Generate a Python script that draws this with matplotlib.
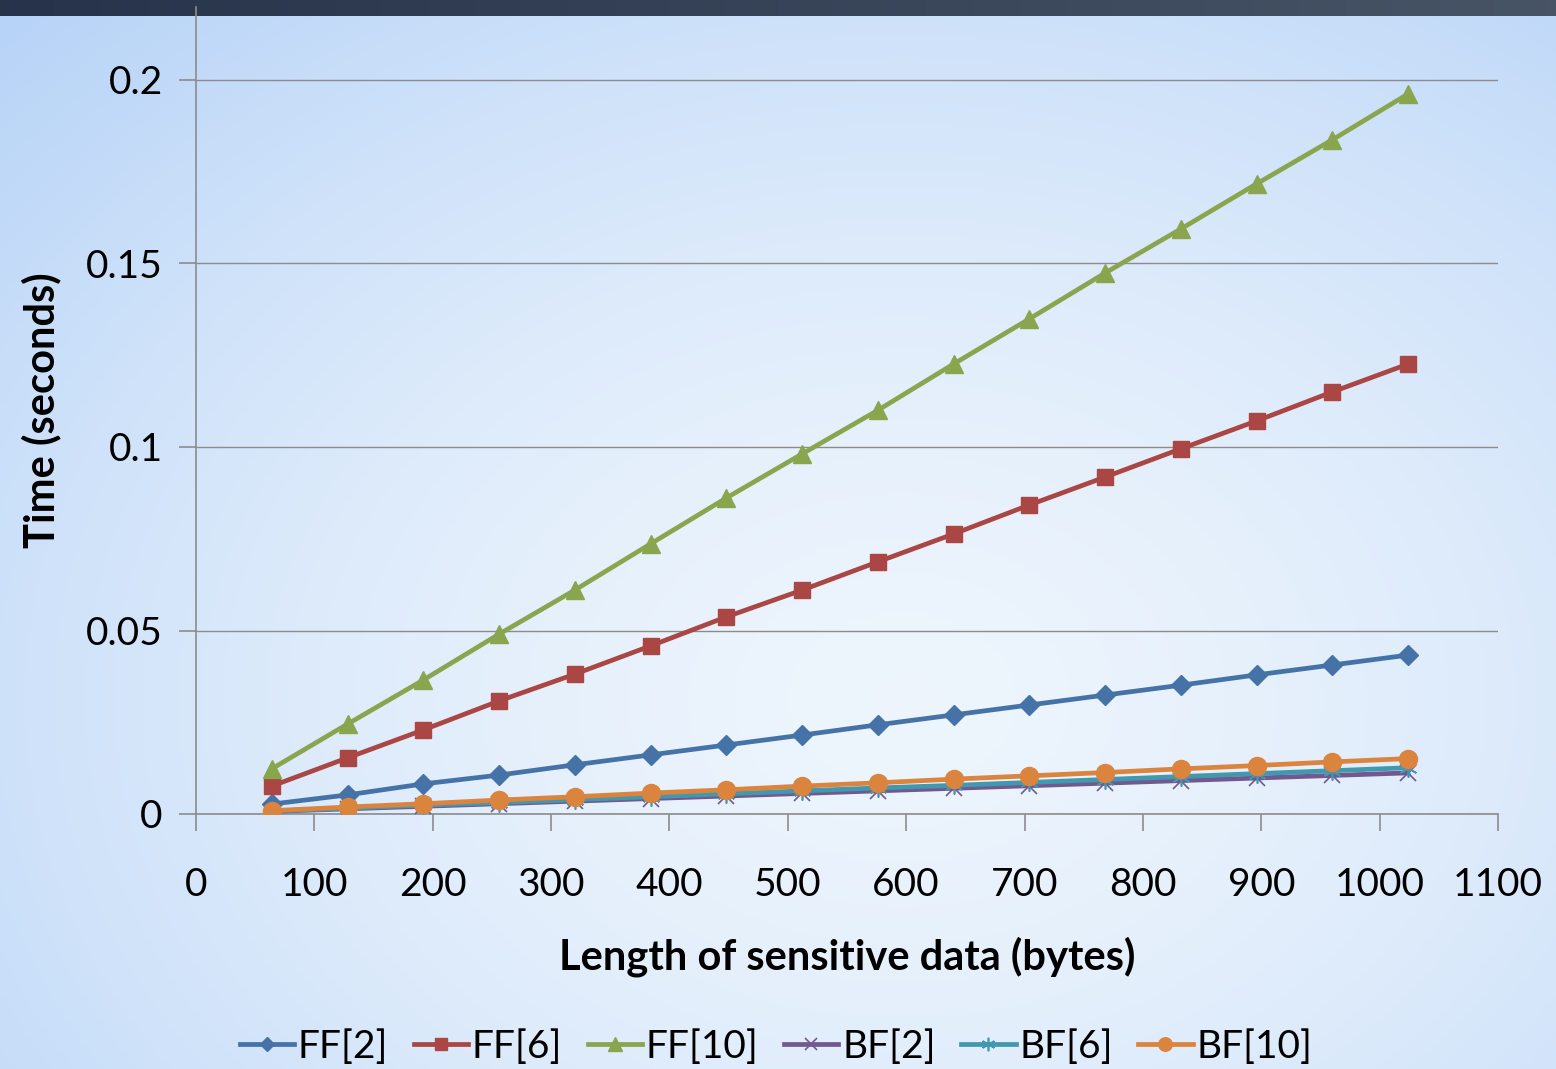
import numpy as np
import matplotlib.pyplot as plt
from matplotlib.lines import Line2D

# --- data ---
x_bytes = [64, 128, 192, 256, 320, 384, 448, 512, 576, 640, 704, 768, 832, 896, 960, 1024]

ff2 = [0.0027, 0.0052, 0.0082, 0.0106, 0.0134, 0.0161, 0.0188, 0.0215,
       0.0243, 0.0270, 0.0297, 0.0324, 0.0351, 0.0379, 0.0406, 0.0433]
ff6 = [0.0076, 0.0153, 0.0229, 0.0308, 0.0381, 0.0458, 0.0537, 0.0610,
       0.0687, 0.0763, 0.0842, 0.0918, 0.0995, 0.1071, 0.1150, 0.1226]
ff10 = [0.0123, 0.0245, 0.0365, 0.0490, 0.0610, 0.0736, 0.0861, 0.0981,
        0.1100, 0.1226, 0.1349, 0.1474, 0.1594, 0.1717, 0.1837, 0.1962]
bf2 = [0.0007, 0.0014, 0.0021, 0.0028, 0.0035, 0.0042, 0.0049, 0.0056,
       0.0063, 0.0070, 0.0077, 0.0084, 0.0091, 0.0098, 0.0105, 0.0112]
bf6 = [0.0008, 0.0016, 0.0024, 0.0031, 0.0039, 0.0047, 0.0055, 0.0063,
       0.0071, 0.0078, 0.0086, 0.0094, 0.0102, 0.0110, 0.0118, 0.0126]
bf10 = [0.0009, 0.0019, 0.0028, 0.0038, 0.0047, 0.0057, 0.0066, 0.0076,
        0.0085, 0.0095, 0.0104, 0.0113, 0.0123, 0.0132, 0.0142, 0.0151]

labels = ["FF[2]", "FF[6]", "FF[10]", "BF[2]", "BF[6]", "BF[10]"]
x_ticks = [0, 100, 200, 300, 400, 500, 600, 700, 800, 900, 1000, 1100]
y_ticks = [0, 0.05, 0.1, 0.15, 0.2]
y_ticklabels = ["0", "0.05", "0.1", "0.15", "0.2"]

plt.rcParams['font.family'] = ['Lato', 'DejaVu Sans']

W, H = 1556, 1069
fig = plt.figure(figsize=(W / 100, H / 100), dpi=100)

# --- background gradient ---
bg = fig.add_axes([0, 0, 1, 1], zorder=-10)
yy, xx = np.mgrid[0:H:4, 0:W:4]
d = np.sqrt(((xx - 900) / 1250.0) ** 2 + ((yy - 700) / 950.0) ** 2)
t = (np.clip(d, 0, 1) ** 1.6)[..., None]
c_in = np.array([0.93, 0.96, 0.99])
c_out = np.array([0.72, 0.83, 0.97])
img = c_in * (1 - t) + c_out * t
bg.imshow(img, extent=[0, W, H, 0], aspect='auto')
# dark title strip at the top
strip = np.linspace(0, 1, 200)[None, :, None]
c_l = np.array([0.15, 0.20, 0.29])
c_r = np.array([0.28, 0.33, 0.40])
bg.imshow(c_l * (1 - strip) + c_r * strip, extent=[0, W, 16, 0], aspect='auto')
bg.set_xlim(0, W)
bg.set_ylim(H, 0)
bg.axis('off')

# --- main axes ---
ax = fig.add_axes([196 / W, 1 - 814 / H, (1498 - 196) / W, (814 - 6.6) / H])
ax.patch.set_alpha(0)

series = [
    (ff2, '#4572a7', 'D', 10, {}),
    (ff6, '#aa4643', 's', 12, {}),
    (ff10, '#89a54e', '^', 13, {}),
    (bf2, '#71588f', 'x', 12, {'markeredgewidth': 1.2}),
    (bf6, '#4198af', (6, 2, 0), 13, {'markeredgewidth': 1.2}),
    (bf10, '#db843d', 'o', 13, {}),
]
handles = []
for (vals, col, mk, ms, extra), lab in zip(series, labels):
    ax.plot(x_bytes, vals, color=col, lw=3.4, marker=mk, markersize=ms,
            markerfacecolor=col, markeredgecolor=col, zorder=3, **extra)
    handles.append(Line2D([], [], color=col, lw=3.4, marker=mk, markersize=ms * 0.75,
                          markerfacecolor=col, markeredgecolor=col, **extra))

ax.set_xlim(0, 1100)
ax.set_ylim(0, 0.22)
ax.set_xticks(x_ticks)
ax.set_yticks(y_ticks)
ax.set_yticklabels(y_ticklabels)
ax.grid(axis='y', color='#8c8c8c', lw=1)
ax.set_axisbelow(True)

for s in ['top', 'right']:
    ax.spines[s].set_visible(False)
for s in ['left', 'bottom']:
    ax.spines[s].set_color('#8c8c8c')
    ax.spines[s].set_linewidth(1.2)
ax.tick_params(axis='both', colors='#8c8c8c', labelcolor='black', length=12,
               width=1.2, labelsize=28, direction='out')
ax.tick_params(axis='x', pad=26)
ax.tick_params(axis='y', pad=12)

ax.set_xlabel("Length of sensitive data (bytes)", fontsize=30, fontweight='bold', labelpad=24)
ax.set_ylabel("Time (seconds)", fontsize=30, fontweight='bold', labelpad=18)

fig.legend(handles, labels, loc='center', bbox_to_anchor=(776 / W, 1 - 1047 / H),
           ncol=6, frameon=False, fontsize=28, handlelength=1.4, handletextpad=0.1,
           columnspacing=0.65)

fig.savefig('out.png', dpi=100)
